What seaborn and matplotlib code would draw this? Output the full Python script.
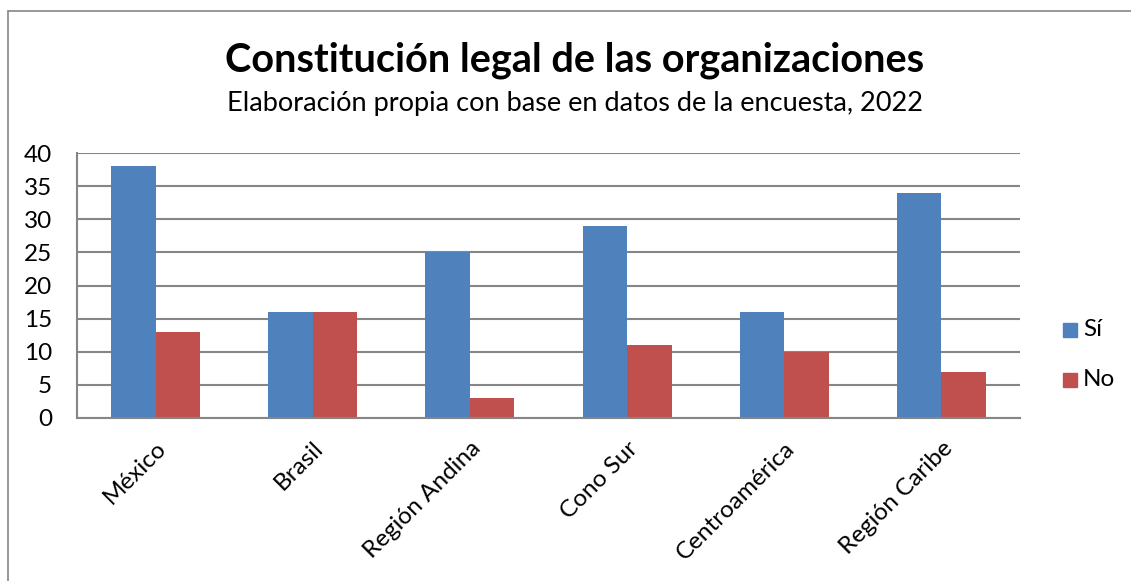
import numpy as np
import pandas as pd
import matplotlib
matplotlib.use('Agg')
import matplotlib.pyplot as plt
import seaborn as sns
from matplotlib.patches import Rectangle

# data
regiones = ['México', 'Brasil', 'Región Andina', 'Cono Sur', 'Centroamérica', 'Región Caribe']
si = [38, 16, 25, 29, 16, 34]
no = [13, 16, 3, 11, 10, 7]
series = ['Sí', 'No']
colores = ['#4F81BD', '#C0504D']

df = pd.DataFrame({'region': regiones * 2,
                   'respuesta': ['Sí'] * len(si) + ['No'] * len(no),
                   'valor': si + no})

sns.set_style('white')
plt.rcParams['font.family'] = ['Lato', 'DejaVu Sans']
plt.rcParams['text.color'] = 'black'
plt.rcParams['xtick.color'] = 'black'
plt.rcParams['ytick.color'] = 'black'

fig = plt.figure(figsize=(11.31, 5.81), dpi=100)
ax = fig.add_axes([77 / 1131, 1 - 418 / 581, (1020 - 77) / 1131, (418 - 153) / 581])

sns.barplot(data=df, x='region', y='valor', hue='respuesta', hue_order=series,
            palette=colores, width=0.567, saturation=1, linewidth=0, ax=ax, legend=False)

ax.set_ylim(0, 40)
ax.set_yticks(range(0, 41, 5))
ax.yaxis.grid(True, color='#868686', linewidth=1.5)
ax.set_axisbelow(True)
for s in ['top', 'right']:
    ax.spines[s].set_visible(False)
for s in ['left', 'bottom']:
    ax.spines[s].set_color('#868686')
    ax.spines[s].set_linewidth(1.5)
ax.set_xlabel('')
ax.set_ylabel('')
ax.tick_params(axis='y', labelsize=17.5, length=0, pad=18)
ax.tick_params(axis='x', labelsize=17.5, length=0, pad=14)
plt.setp(ax.get_xticklabels(), rotation=45, ha='right', rotation_mode='anchor')

fig.text(575 / 1131, 1 - 60 / 581, 'Constitución legal de las organizaciones',
         ha='center', va='center', fontsize=28.5, fontweight='bold')
fig.text(575 / 1131, 1 - 104 / 581, 'Elaboración propia con base en datos de la encuesta, 2022',
         ha='center', va='center', fontsize=19.5)

# legend
for i, (name, c) in enumerate(zip(series, colores)):
    y = 1 - (330 + 50 * i) / 581
    fig.patches.append(Rectangle((1063 / 1131, y - 7 / 581), 14 / 1131, 14 / 581,
                                 transform=fig.transFigure, color=c))
    fig.text(1083 / 1131, y, name, ha='left', va='center', fontsize=17.5)

# outer border (left and top visible)
fig.add_artist(plt.Line2D([8 / 1131, 8 / 1131], [0, 1 - 11 / 581],
                          transform=fig.transFigure, color='#868686', linewidth=1.2))
fig.add_artist(plt.Line2D([8 / 1131, 1], [1 - 11 / 581, 1 - 11 / 581],
                          transform=fig.transFigure, color='#868686', linewidth=1.2))

fig.savefig('out.png', dpi=100)
